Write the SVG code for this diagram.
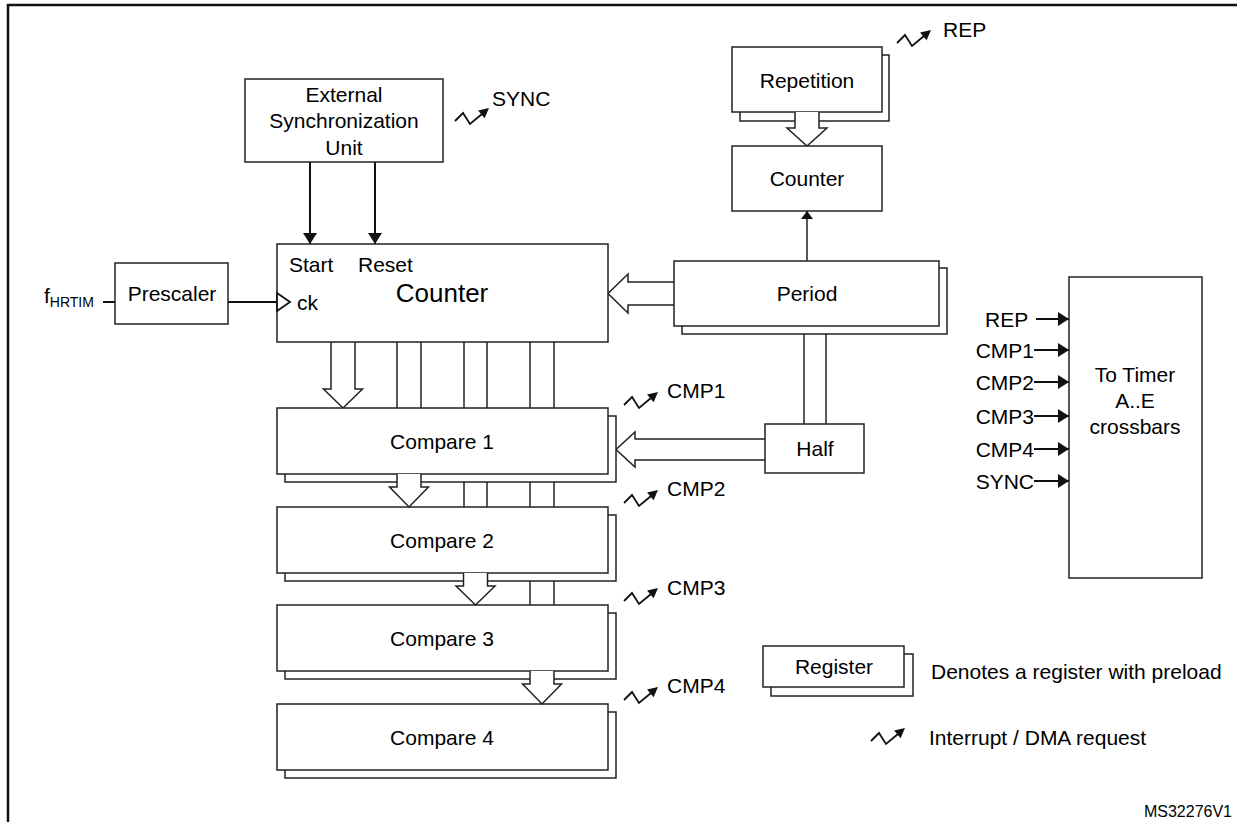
<svg xmlns="http://www.w3.org/2000/svg" width="1237" height="822" viewBox="0 0 1237 822">
<style>
  text { font-family: "Liberation Sans", Arial, sans-serif; font-size: 21px; fill: #000; }
  text.big { font-size: 26px; }
  text.small { font-size: 16px; }
  tspan.sub { font-size: 14px; }
  .c { text-anchor: middle; }
  .e { text-anchor: end; }
  .box { fill: #fff; stroke: #222; stroke-width: 1.5; }
  .ln { fill: none; stroke: #222; stroke-width: 1.5; }
  .thick { fill: none; stroke: #111; stroke-width: 2; }
  .hollow { fill: #fff; stroke: #222; stroke-width: 1.5; stroke-linejoin: miter; }
</style>
<defs>
  <marker id="ah" markerUnits="userSpaceOnUse" viewBox="0 0 11 14" refX="11" refY="7" markerWidth="11" markerHeight="14" orient="auto">
    <path d="M0,0 L11,7 L0,14 z" fill="#111"/>
  </marker>
  <marker id="ahs" markerUnits="userSpaceOnUse" viewBox="0 0 8 12" refX="8" refY="6" markerWidth="8" markerHeight="12" orient="auto">
    <path d="M0,0 L8,6 L0,12 z" fill="#111"/>
  </marker>
  <g id="irq">
    <path d="M0,13 L8,5 L15,16 L27,6" fill="none" stroke="#111" stroke-width="1.8"/>
    <polygon points="34,0 23.1,2.6 29.6,10.3" fill="#111"/>
  </g>
</defs>
<rect width="1237" height="822" fill="#fff"/>
<path d="M8,822 L8,5 L1237,5" fill="none" stroke="#111" stroke-width="2.5"/>

<g id="connectors">
  <line class="thick" x1="310" y1="162" x2="310" y2="244" marker-end="url(#ah)"/>
  <line class="thick" x1="375" y1="162" x2="375" y2="244" marker-end="url(#ah)"/>
  <line class="thick" x1="103" y1="302" x2="115" y2="302"/>
  <line class="thick" x1="228" y1="302" x2="277" y2="302"/>
  <path class="hollow" d="M331,342 L331,389 L323.5,389 L343,408 L362.5,389 L355,389 L355,342"/>
  <line class="ln" x1="397" y1="342" x2="397" y2="408"/>
  <line class="ln" x1="421" y1="342" x2="421" y2="408"/>
  <line class="ln" x1="464" y1="342" x2="464" y2="408"/>
  <line class="ln" x1="487" y1="342" x2="487" y2="408"/>
  <line class="ln" x1="530" y1="342" x2="530" y2="408"/>
  <line class="ln" x1="554" y1="342" x2="554" y2="408"/>
  <line class="ln" x1="464" y1="482" x2="464" y2="507"/>
  <line class="ln" x1="487" y1="482" x2="487" y2="507"/>
  <line class="ln" x1="530" y1="482" x2="530" y2="507"/>
  <line class="ln" x1="554" y1="482" x2="554" y2="507"/>
  <line class="ln" x1="530" y1="581" x2="530" y2="605"/>
  <line class="ln" x1="554" y1="581" x2="554" y2="605"/>
  <path class="hollow" d="M674,282 L628,282 L628,274 L608,293.5 L628,313 L628,305 L674,305"/>
  <path class="hollow" d="M765,439 L635,439 L635,432 L616,449.5 L635,467 L635,460 L765,460"/>
  <line class="ln" x1="804" y1="334" x2="804" y2="424"/>
  <line class="ln" x1="826" y1="334" x2="826" y2="424"/>
  <line class="ln" x1="807" y1="261" x2="807" y2="211" marker-end="url(#ahs)"/>
  <line class="thick" x1="1036" y1="319" x2="1069" y2="319" marker-end="url(#ah)"/>
  <line class="thick" x1="1034" y1="350" x2="1069" y2="350" marker-end="url(#ah)"/>
  <line class="thick" x1="1034" y1="382" x2="1069" y2="382" marker-end="url(#ah)"/>
  <line class="thick" x1="1034" y1="416" x2="1069" y2="416" marker-end="url(#ah)"/>
  <line class="thick" x1="1034" y1="449" x2="1069" y2="449" marker-end="url(#ah)"/>
  <line class="thick" x1="1034" y1="481" x2="1069" y2="481" marker-end="url(#ah)"/>
</g>

<g id="ext-sync">
  <rect class="box" x="245" y="79" width="198" height="83"/>
  <text class="c" x="344" y="101.5">External</text>
  <text class="c" x="344" y="128">Synchronization</text>
  <text class="c" x="344" y="154.5">Unit</text>
  <use href="#irq" x="455" y="108"/>
  <text x="492" y="106">SYNC</text>
</g>

<g id="fhrtim">
  <text x="44" y="303">f<tspan class="sub" dy="4">HRTIM</tspan></text>
</g>

<g id="prescaler">
  <rect class="box" x="115" y="263" width="113" height="61"/>
  <text class="c" x="172" y="301">Prescaler</text>
</g>

<g id="counter">
  <rect class="box" x="277" y="244" width="331" height="98"/>
  <text x="289" y="272">Start</text>
  <text x="358" y="272">Reset</text>
  <path d="M277,293 L290,302 L277,311 z" fill="#fff" stroke="#111" stroke-width="1.8"/>
  <text x="297" y="310">ck</text>
  <text class="c big" x="442" y="302">Counter</text>
</g>

<g id="compare1">
  <rect class="box" x="285" y="416" width="331" height="66"/>
  <rect class="box" x="277" y="408" width="331" height="66"/>
  <text class="c" x="442" y="448.5">Compare 1</text>
  <use href="#irq" x="624" y="392"/>
  <text x="667" y="397.5">CMP1</text>
</g>

<g id="compare2">
  <rect class="box" x="285" y="515" width="331" height="66"/>
  <rect class="box" x="277" y="507" width="331" height="66"/>
  <text class="c" x="442" y="547.5">Compare 2</text>
  <use href="#irq" x="624" y="490"/>
  <text x="667" y="495.5">CMP2</text>
</g>

<g id="compare3">
  <rect class="box" x="285" y="613" width="331" height="66"/>
  <rect class="box" x="277" y="605" width="331" height="66"/>
  <text class="c" x="442" y="645.5">Compare 3</text>
  <use href="#irq" x="624" y="588"/>
  <text x="667" y="594.5">CMP3</text>
</g>

<g id="compare4">
  <rect class="box" x="285" y="712" width="331" height="66"/>
  <rect class="box" x="277" y="704" width="331" height="66"/>
  <text class="c" x="442" y="744.5">Compare 4</text>
  <use href="#irq" x="624" y="687"/>
  <text x="667" y="692.5">CMP4</text>
</g>

<g id="between-arrows">
  <path class="hollow" d="M397,474 L397,487 L389.5,487 L409,507 L428.5,487 L421,487 L421,474"/>
  <path class="hollow" d="M463.5,573 L463.5,586 L456,586 L475.5,605 L495,586 L487.5,586 L487.5,573"/>
  <path class="hollow" d="M530,671 L530,684 L522.5,684 L542,704 L561.5,684 L554,684 L554,671"/>
</g>

<g id="repetition">
  <rect class="box" x="740" y="55" width="149" height="66"/>
  <rect class="box" x="732" y="47" width="150" height="65"/>
  <text class="c" x="807" y="87.5">Repetition</text>
  <use href="#irq" x="897" y="30"/>
  <text x="943" y="36.5">REP</text>
  <path class="hollow" d="M795,112 L795,128 L787,128 L807,146 L827,128 L819,128 L819,112"/>
</g>

<g id="rep-counter">
  <rect class="box" x="732" y="146" width="150" height="65"/>
  <text class="c" x="807" y="185.5">Counter</text>
</g>

<g id="period">
  <rect class="box" x="682" y="268" width="265" height="66"/>
  <rect class="box" x="674" y="261" width="265" height="65"/>
  <text class="c" x="807" y="300.5">Period</text>
</g>

<g id="half">
  <rect class="box" x="765" y="424" width="99" height="49"/>
  <text class="c" x="815" y="455.5">Half</text>
</g>

<g id="crossbars">
  <rect class="box" x="1069" y="277" width="133" height="301"/>
  <text class="c" x="1135" y="381.5">To Timer</text>
  <text class="c" x="1135" y="408">A..E</text>
  <text class="c" x="1135" y="433.5">crossbars</text>
  <text x="985" y="326.5">REP</text>
  <text class="e" x="1034" y="357.5">CMP1</text>
  <text class="e" x="1034" y="389.5">CMP2</text>
  <text class="e" x="1034" y="423.5">CMP3</text>
  <text class="e" x="1034" y="456.5">CMP4</text>
  <text class="e" x="1034" y="488.5">SYNC</text>
</g>

<g id="legend">
  <rect class="box" x="771" y="654" width="142" height="42"/>
  <rect class="box" x="763" y="646" width="141" height="41"/>
  <text class="c" x="834" y="673.5">Register</text>
  <text x="931" y="678.5">Denotes a register with preload</text>
  <use href="#irq" x="871" y="728"/>
  <text x="929" y="744.5">Interrupt / DMA request</text>
  <text class="e small" x="1232" y="817">MS32276V1</text>
</g>
</svg>
